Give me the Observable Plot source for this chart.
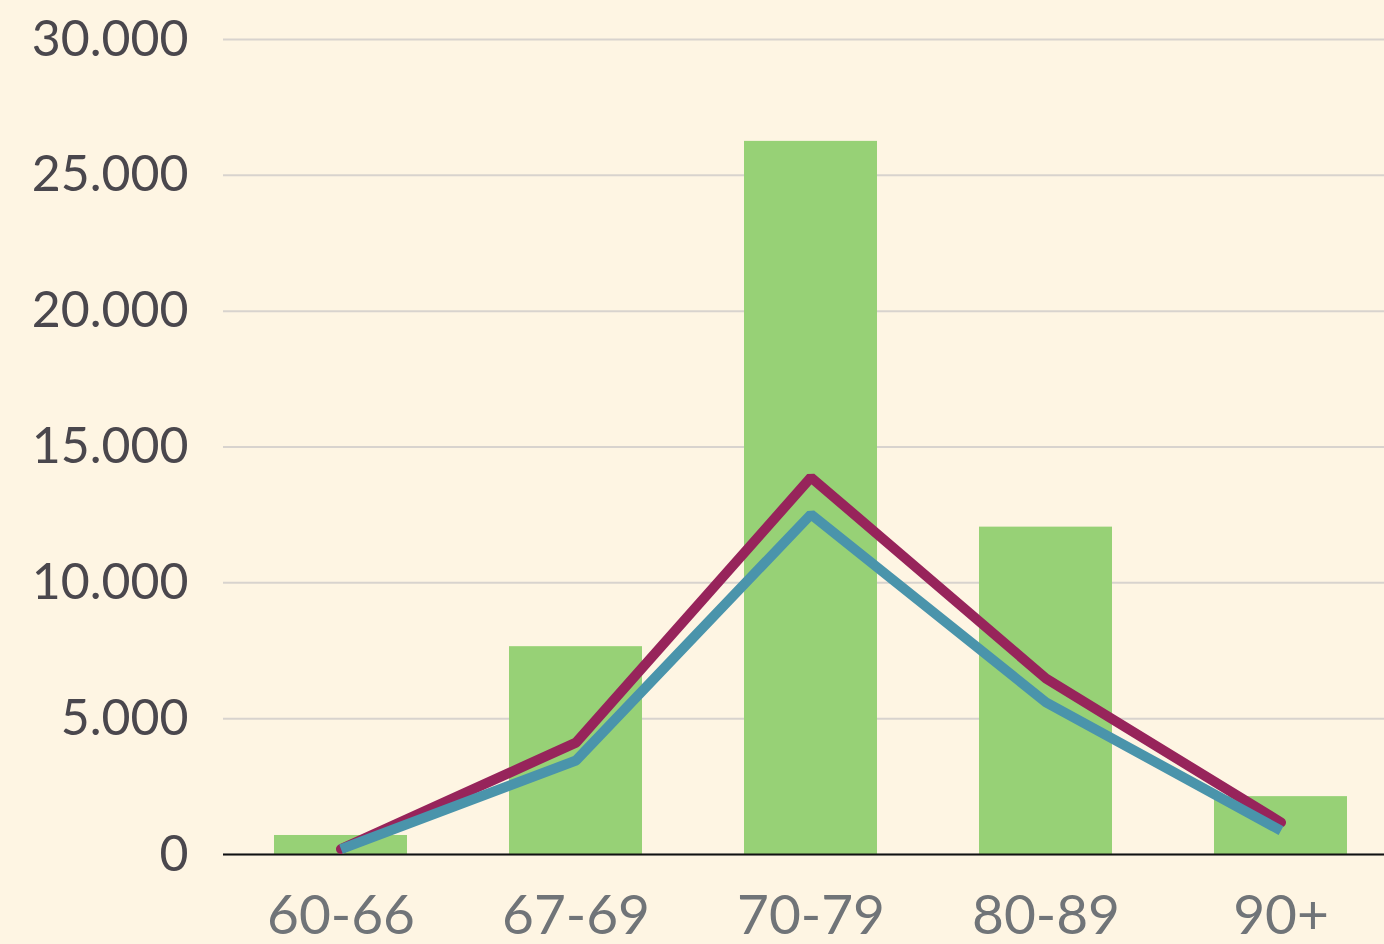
<!DOCTYPE html>
<html>
<head>
<meta charset="utf-8">
<script src="https://cdn.jsdelivr.net/npm/d3@7"></script>
<script src="https://cdn.jsdelivr.net/npm/@observablehq/plot@0.6"></script>
<style>
  html, body { margin: 0; padding: 0; background: #FEF5E3; overflow: hidden; }
  #chart svg { display: block; }
</style>
</head>
<body>
<div id="chart"></div>
<script>
const categories = ["60-66", "67-69", "70-79", "80-89", "90+"];
const barValues = [700, 7650, 26250, 12050, 2130];
const maroonValues = [200, 4120, 13880, 6480, 1180];
const tealValues = [200, 3460, 12520, 5600, 880];
const yTicks = [0, 5000, 10000, 15000, 20000, 25000, 30000];

const bars = categories.map((c, i) => ({cat: c, value: barValues[i]}));
const maroon = categories.map((c, i) => ({cat: c, value: maroonValues[i]}));
const teal = categories.map((c, i) => ({cat: c, value: tealValues[i]}));

const locale = d3.formatLocale({decimal: ",", thousands: ".", grouping: [3], currency: ["", ""]});
const fmt = locale.format(",");

const chart = Plot.plot({
  width: 1384,
  height: 944,
  marginLeft: 223,
  marginRight: 0,
  marginTop: 39,
  marginBottom: 90,
  style: {background: "#FEF5E3", fontFamily: "Lato, 'Open Sans', sans-serif", overflow: "hidden"},
  x: {domain: categories, range: [223.5, 1398.5], paddingInner: 0.434, paddingOuter: 0.217, label: null},
  y: {domain: [0, 30000], label: null},
  marks: [
    Plot.gridY(yTicks, {stroke: "#D8D3CE", strokeOpacity: 1, strokeWidth: 2}),
    Plot.barY(bars, {x: "cat", y: "value", fill: "#97D176"}),
    Plot.ruleY([0], {stroke: "#111", strokeWidth: 2}),
    Plot.line(maroon, {x: "cat", y: "value", stroke: "#97245B", strokeWidth: 10, strokeLinecap: "round", strokeLinejoin: "miter"}),
    Plot.line(teal, {x: "cat", y: "value", stroke: "#4A94AB", strokeWidth: 10, strokeLinecap: "butt", strokeLinejoin: "miter"}),
    Plot.axisY(yTicks, {tickSize: 0, tickPadding: 35, tickFormat: fmt, fontSize: 50, fill: "#4A474D", label: null}),
    Plot.axisX({tickSize: 0, tickPadding: 40, fontSize: 55, fill: "#707478", label: null})
  ]
});
document.getElementById("chart").appendChild(chart);
</script>
</body>
</html>
